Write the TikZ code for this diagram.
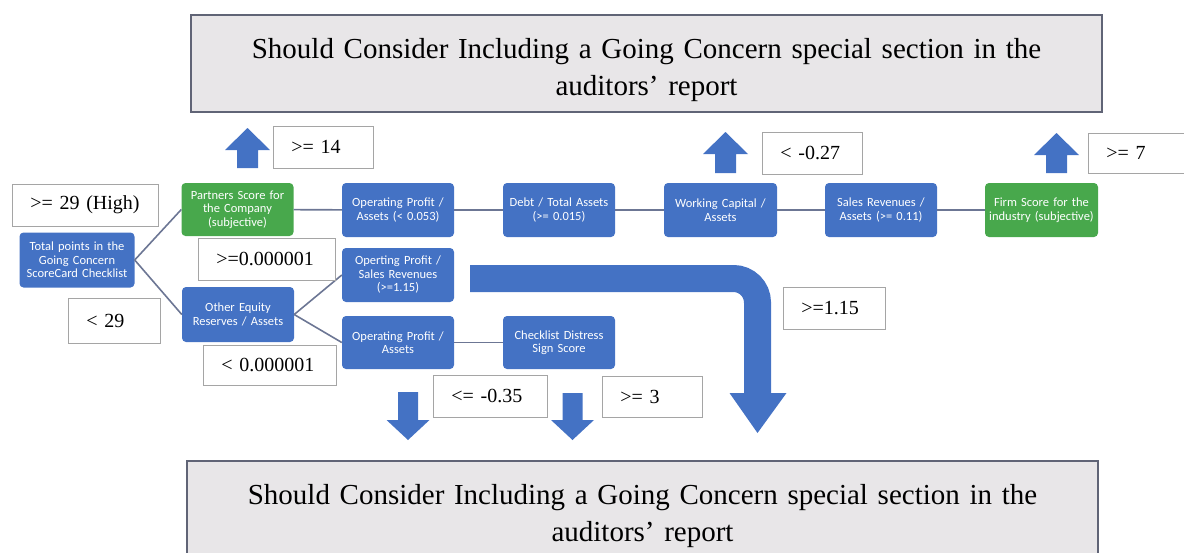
\documentclass[tikz,border=0pt]{standalone}
\usepackage{fontspec}
\setmainfont{Liberation Serif}
\newfontfamily\boxfont{Carlito}
\usepackage{tikz}
\usetikzlibrary{%
  calc,%
  positioning}

\definecolor{boxblue}{RGB}{68,114,196}
\definecolor{boxgreen}{RGB}{72,168,76}
\definecolor{linegray}{RGB}{108,118,148}
\definecolor{panelgray}{RGB}{232,230,232}
\definecolor{paneledge}{RGB}{96,100,118}
\definecolor{labeledge}{RGB}{165,165,165}

\tikzset{
  metric/.style={rectangle, rounded corners=4pt, fill=boxblue, text=white,
    font=\boxfont\fontsize{12.5}{13.5}\selectfont, align=center,
    text width=108pt, inner xsep=2pt, minimum height=54pt},
  subjective/.style={metric, fill=boxgreen},
  cond/.style={rectangle, draw=labeledge, line width=0.8pt, fill=white,
    font=\fontsize{20}{22}\selectfont, align=left, anchor=west,
    inner xsep=18pt, minimum height=42pt},
  outcome/.style={rectangle, draw=paneledge, line width=1.6pt, fill=panelgray,
    minimum width=911pt, minimum height=97pt},
  verdict/.style={font=\fontsize{29}{37}\selectfont, align=center, text width=880pt},
  link/.style={draw=linegray, line width=1.6pt}
}

\begin{document}
\begin{tikzpicture}
\begin{scope}[x=1pt,y=-1pt]
\useasboundingbox (0,0) rectangle (1184,552);
% bandeaux de conclusion
\node (top) at (646.5,63.5) [outcome] {};
\node (toptext) at ([yshift=-7pt]top.center) [verdict] {Should Consider Including a Going Concern special section in the\\auditors’ report};
\node (bottom) at (642.5,509.5) [outcome] {};
\node (bottomtext) at ([yshift=-7pt]bottom.center) [verdict] {Should Consider Including a Going Concern special section in the\\auditors’ report};
% ratios
\node (tot) at (77,260) [metric, text width=111pt, minimum height=55pt] {Total points in the\\Going Concern\\ScoreCard Checklist};
\node (partners) at (237.5,209.5) [subjective, minimum height=53pt] {Partners Score for\\the Company\\(subjective)};
\node (other) at (238,314.5) [metric, minimum height=55pt] {Other Equity\\Reserves / Assets};
\node (opa1) at (398,210) [metric] {Operating Profit /\\Assets (< 0.053)};
\node (debt) at (559,210) [metric] {Debt / Total Assets\\(>= 0.015)};
\node (wcap) at (720.5,210) [metric, text width=109pt] {Working Capital /\\Assets};
\node (sales) at (881,210) [metric] {Sales Revenues /\\Assets (>= 0.11)};
\node (firm) at (1041.5,210) [subjective, text width=109pt] {Firm Score for the\\industry (subjective)};
\node (ops) at (398,275) [metric] {Operting Profit /\\Sales Revenues\\(>=1.15)};
\node (opa2) at (398,342.5) [metric, minimum height=53pt] {Operating Profit /\\Assets};
\node (check) at (559,342.5) [metric, minimum height=53pt] {Checklist Distress\\Sign Score};
% liaisons
\draw[link] (tot.east) -- (partners.west);
\draw[link] (tot.east) -- (other.west);
\draw[link] (partners) -- (opa1);
\draw[link] (opa1) -- (debt);
\draw[link] (debt) -- (wcap);
\draw[link] (wcap) -- (sales);
\draw[link] (sales) -- (firm);
\draw[link] (other.east) -- (ops.west);
\draw[link] (other.east) -- (opa2.west);
\draw[link] (opa2) -- (check);
% seuils
\node (high) at (12,205) [cond, text width=110pt] {>= 29 (High)};
\node (low) at (68,320.5) [cond, text width=56pt, minimum height=45pt] {< 29};
\node (pos) at (198,259) [cond, text width=101pt] {>=0.000001};
\node (neg) at (203,365) [cond, text width=97pt, minimum height=40pt] {< 0.000001};
\node (t14) at (273,147) [cond, text width=64pt] {>= 14};
\node (t027) at (762,153) [cond, text width=64pt] {< -0.27};
\node (t7) at (1088,153) [cond, text width=64pt, minimum height=40pt] {>= 7};
\node (t115) at (783,308) [cond, text width=66pt] {>=1.15};
\node (t035) at (433,396) [cond, text width=78pt] {<= -0.35};
\node (t3) at (602,396.5) [cond, text width=64pt, minimum height=41pt] {>= 3};
% fleches pleines
\foreach \c/\t/\b in {247.5/128/168, 725.5/132/173, 1056.5/133/173}
  \fill[boxblue] (\c-10.5,\b) -- (\c-10.5,\t+22) -- (\c-22.5,\t+22) -- (\c,\t)
    -- (\c+22.5,\t+22) -- (\c+10.5,\t+22) -- (\c+10.5,\b) -- cycle;
\foreach \c/\t in {408/392, 572.5/393}
  \fill[boxblue] (\c-10,\t) -- (\c-10,420) -- (\c-21.5,420) -- (\c,440)
    -- (\c+21.5,420) -- (\c+10,420) -- (\c+10,\t) -- cycle;
\coordinate (bendstart) at (470,278.5);
\coordinate (bendcorner) at (757.5,278.5);
\coordinate (bendend) at (757.5,394);
\draw[boxblue, line width=27pt, rounded corners=24pt] (bendstart) -- (bendcorner) -- (bendend);
\fill[boxblue] (729.5,393) -- (786.5,393) -- (757.5,433) -- cycle;
\end{scope}
\end{tikzpicture}
\end{document}
